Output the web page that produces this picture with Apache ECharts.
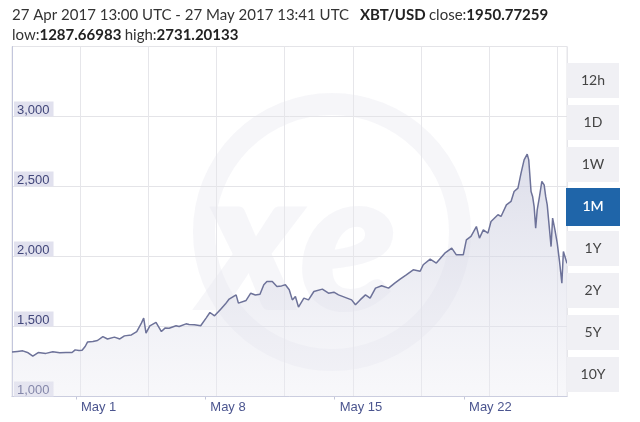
<!DOCTYPE html>
<html>
<head>
<meta charset="utf-8">
<script src="https://cdn.jsdelivr.net/npm/echarts@6/dist/echarts.min.js"></script>
<style>
html,body{margin:0;padding:0;background:#fff;}
#chart{width:640px;height:422px;}
</style>
</head>
<body>
<div id="chart"></div>
<script>
// ---- data (hours after 27 Apr 2017 13:00 UTC, XBT/USD price) ----
const hoursFromStart = [0,7,14,21,27,34,44,53,62,70,78,82,87,91,95,98,105,111,118,124,133,140,146,155,162,168,171,174,179,187,194,199,204,213,217,226,230,237,245,252,257,263,271,277,282,291,294,304,310,316,322,327,331,338,344,350,355,360,364,368,372,379,385,392,403,411,418,424,435,441,446,452,459,465,472,480,489,497,504,512,521,530,534,543,551,562,571,577,586,590,596,603,607,612,618,622,631,635,642,648,652,657,661,665,669,671,674,676,678,680,682,685,688,691,693,695,698,700,702,705,708,711,714,716,720.68];
const prices = [1318,1322,1326,1312,1288,1314,1308,1319,1312,1315,1314,1333,1328,1330,1357,1389,1393,1400,1428,1411,1424,1411,1433,1440,1464,1524,1560,1453,1505,1529,1464,1490,1488,1505,1500,1519,1515,1512,1505,1560,1600,1576,1624,1660,1696,1726,1667,1686,1738,1725,1731,1798,1821,1821,1786,1790,1798,1762,1690,1714,1639,1703,1690,1750,1767,1738,1745,1726,1703,1690,1655,1690,1726,1703,1774,1791,1774,1810,1839,1869,1905,1895,1941,1981,1953,2024,2060,2012,2012,2119,2143,2214,2131,2190,2167,2250,2298,2286,2369,2393,2464,2488,2595,2690,2731,2690,2464,2429,2357,2203,2333,2429,2536,2512,2429,2369,2190,2071,2274,2190,2095,1964,1810,2036,1951];
const xTickHours = [83, 251, 419, 587];
const xTickLabels = ['May 1', 'May 8', 'May 15', 'May 22'];
const yTicks = [1000, 1500, 2000, 2500, 3000];
const rangeButtons = ['12h', '1D', '1W', '1M', '1Y', '2Y', '5Y', '10Y'];
const selectedRange = '1M';
const headerPeriod = '27 Apr 2017 13:00 UTC - 27 May 2017 13:41 UTC';
const headerPair = 'XBT/USD';
const closeValue = '1950.77259';
const lowValue = '1287.66983';
const highValue = '2731.20133';
const endHour = 720.68;

const seriesData = hoursFromStart.map((h, i) => [h, prices[i]]);

const chart = echarts.init(document.getElementById('chart'), null, {renderer: 'canvas'});

const buttonGraphics = [];
rangeButtons.forEach((b, i) => {
  const y = 63 + i * 42;
  const sel = b === selectedRange;
  buttonGraphics.push({
    type: 'rect', z: 10,
    shape: sel ? {x: 566, y: y - 1, width: 54, height: 38} : {x: 567, y: y, width: 52, height: 35},
    style: {fill: sel ? '#1f65a9' : '#f0f0f4'}
  });
  buttonGraphics.push({
    type: 'text', z: 11,
    x: 593, y: y + 17.5,
    style: {text: b, fill: sel ? '#ffffff' : '#444444', font: (sel ? '600 ' : '400 ') + '14px Lato', align: 'center', verticalAlign: 'middle'}
  });
});

const option = {
  animation: false,
  backgroundColor: '#ffffff',
  grid: {left: 12, right: 73, top: 46.5, bottom: 25.5, show: true, borderColor: '#e4e4e8', borderWidth: 1, backgroundColor: 'transparent'},
  graphic: [
    {type: 'circle', z: 0, silent: true, shape: {cx: 332, cy: 232, r: 128}, style: {fill: 'none', stroke: 'rgba(232,232,240,0.4)', lineWidth: 22}},
    {type: 'text', z: 0, silent: true, x: 300, y: 245, style: {text: 'xe', font: 'italic 800 200px Lato', fill: 'rgba(232,232,240,0.4)', align: 'center', verticalAlign: 'middle'}},
    {type: 'text', x: 12, y: 15, style: {text: headerPeriod, font: '400 15px Lato', fill: '#333333', verticalAlign: 'middle'}},
    {type: 'text', x: 360, y: 15, style: {
      text: '{b|' + headerPair + '} {n|close:}{b|' + closeValue + '}', verticalAlign: 'middle',
      rich: {b: {font: '700 15px Lato', fill: '#222222'}, n: {font: '400 15px Lato', fill: '#333333'}}
    }},
    {type: 'text', x: 12, y: 35, style: {
      text: '{n|low:}{b|' + lowValue + '} {n|high:}{b|' + highValue + '}', verticalAlign: 'middle',
      rich: {b: {font: '700 15px Lato', fill: '#222222'}, n: {font: '400 15px Lato', fill: '#333333'}}
    }}
  ].concat(buttonGraphics),
  xAxis: [
    {
      type: 'value', min: 0, max: endHour,
      axisLine: {show: true, lineStyle: {color: '#c3c6da', width: 1}},
      axisTick: {show: true, customValues: xTickHours, length: 3, lineStyle: {color: '#c3c6da'}},
      axisLabel: {
        customValues: xTickHours,
        formatter: v => xTickLabels[xTickHours.indexOf(v)] || '',
        align: 'left', padding: [0, 0, 0, 5], margin: 4,
        color: '#4b558f', fontFamily: 'Liberation Sans, Arial', fontSize: 13
      },
      splitLine: {show: false}
    },
    {
      type: 'value', min: 0, max: endHour, interval: 88.5, position: 'bottom',
      axisLine: {show: false}, axisTick: {show: false}, axisLabel: {show: false},
      splitLine: {show: true, lineStyle: {color: '#e6e6ea', width: 1}}
    }
  ],
  yAxis: {
    type: 'value', min: 1000, max: 3500, interval: 500,
    axisLine: {show: true, lineStyle: {color: '#c3c6dc', width: 1}},
    axisTick: {show: false},
    splitLine: {show: true, lineStyle: {color: '#e4e4e8', width: 1}},
    axisLabel: {
      inside: true, margin: 2, verticalAlign: 'bottom', showMaxLabel: false,
      formatter: v => (yTicks.indexOf(v) >= 0 ? v.toLocaleString('en-US') : ''),
      color: '#41467a', fontFamily: 'Liberation Sans, Arial', fontSize: 13,
      backgroundColor: '#e1e1ee', padding: [2, 4, 0, 3]
    }
  },
  series: [{
    type: 'line', xAxisIndex: 0, data: seriesData, showSymbol: false, z: 3,
    lineStyle: {color: '#6d7299', width: 1.5},
    areaStyle: {
      color: new echarts.graphic.LinearGradient(0, 0, 0, 1, [
        {offset: 0, color: 'rgba(198,200,220,0.85)'},
        {offset: 1, color: 'rgba(236,236,243,0.55)'}
      ])
    }
  }]
};
chart.setOption(option);
</script>
</body>
</html>
